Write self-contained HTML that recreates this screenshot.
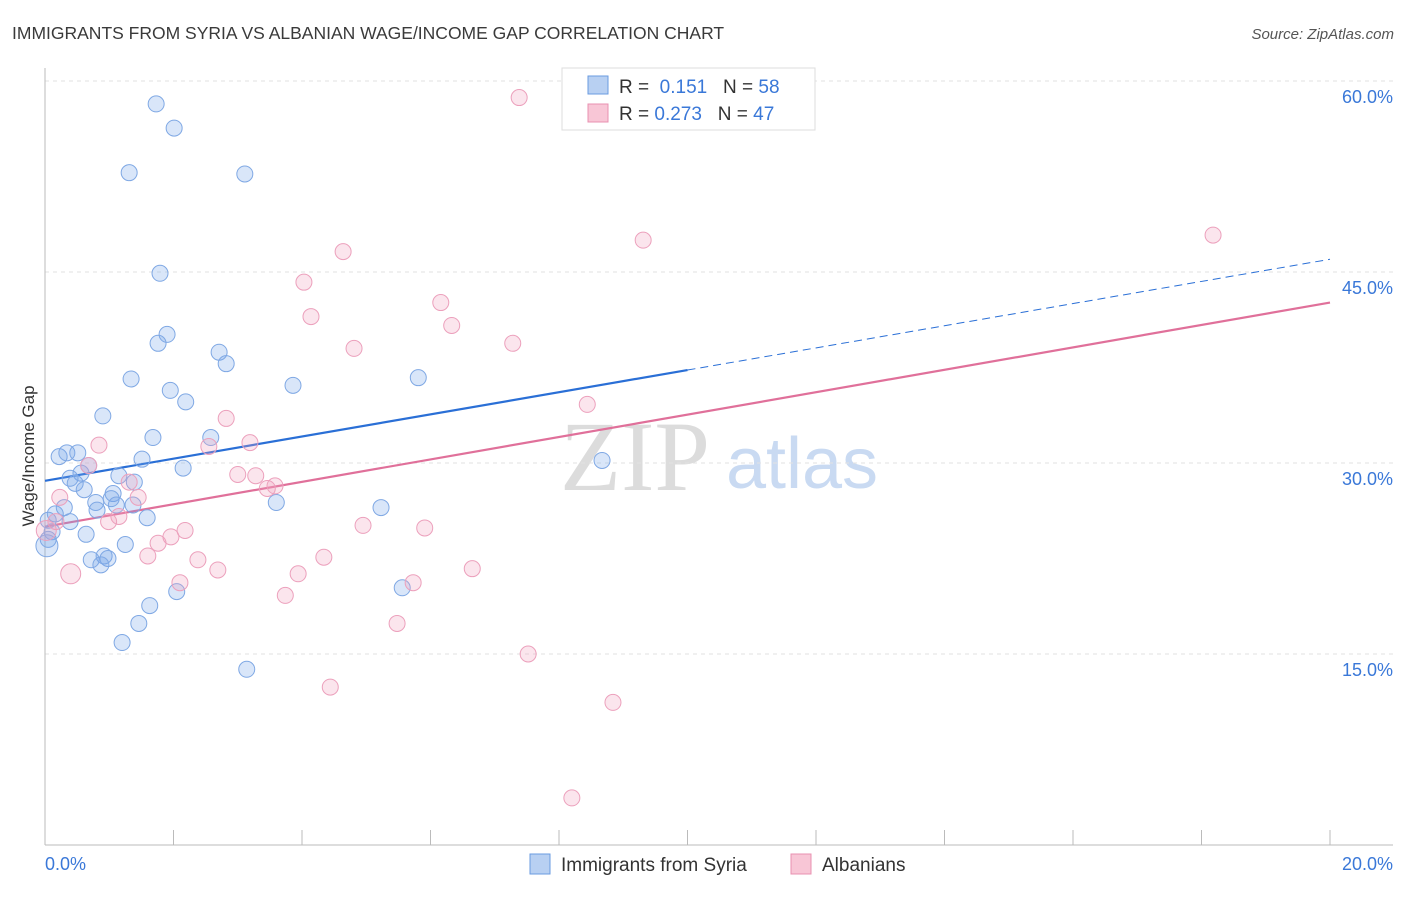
<!DOCTYPE html>
<html><head><meta charset="utf-8"><style>
body{margin:0;background:#fff;font-family:"Liberation Sans",sans-serif;}
svg text{font-family:"Liberation Sans",sans-serif;}
</style></head><body>
<svg id="chart" width="1406" height="892" viewBox="0 0 1406 892">
<text x="12" y="39" font-size="17.5" fill="#3a3a3a">IMMIGRANTS FROM SYRIA VS ALBANIAN WAGE/INCOME GAP CORRELATION CHART</text>
<text x="1394" y="39" font-size="15" fill="#555" text-anchor="end" font-style="italic">Source: ZipAtlas.com</text>
<g>
<text x="635" y="490" font-size="100" fill="#dcdcdc" style="font-family:'Liberation Serif',serif" text-anchor="middle">ZIP</text>
<text x="802" y="488" font-size="72" fill="#c9daf2" text-anchor="middle">atlas</text>
</g>
<g id="grid"></g>
<g id="axes"></g>
<g id="trends"></g>
<g id="points"></g>
<text transform="translate(34,456) rotate(-90)" font-size="17" fill="#333" text-anchor="middle">Wage/Income Gap</text>
<g>
<rect x="562" y="68" width="253" height="62" fill="#fff" stroke="#ddd"/>
<rect x="588" y="76" width="20" height="18" fill="#b8d0f2" stroke="#6a9be0"/>
<rect x="588" y="104" width="20" height="18" fill="#f8c6d6" stroke="#e890b0"/>
<text x="619" y="93" font-size="19" fill="#333">R = <tspan fill="#3a78d8">&#160;0.151</tspan>&#160;&#160;&#160;N = <tspan fill="#3a78d8">58</tspan></text>
<text x="619" y="120" font-size="19" fill="#333">R = <tspan fill="#3a78d8">0.273</tspan>&#160;&#160;&#160;N = <tspan fill="#3a78d8">47</tspan></text>
</g>
<g>
<rect x="530" y="854" width="20" height="20" fill="#b8d0f2" stroke="#6a9be0"/>
<text x="561" y="871" font-size="19" fill="#333">Immigrants from Syria</text>
<rect x="791" y="854" width="20" height="20" fill="#f8c6d6" stroke="#e890b0"/>
<text x="822" y="871" font-size="19" fill="#333">Albanians</text>
</g>
</svg>
<script>
const syriaX=[1.73,2.01,1.31,3.11,1.79,1.90,1.76,2.71,2.82,1.34,3.86,5.81,1.95,2.19,0.90,1.68,2.58,1.51,2.15,8.67,0.22,0.34,0.51,0.68,0.56,0.39,0.47,1.15,1.39,0.61,1.06,1.03,0.79,1.11,0.81,1.37,0.30,0.16,0.05,0.39,1.59,3.60,5.23,0.64,0.11,0.05,1.25,0.92,0.72,0.98,0.87,5.56,2.05,1.63,1.46,1.20,3.14,0.03];
const syriaY=[58.2,56.3,52.8,52.7,44.9,40.1,39.4,38.7,37.8,36.6,36.1,36.7,35.7,34.8,33.7,32.0,32.0,30.3,29.6,30.2,30.5,30.8,30.8,29.8,29.2,28.8,28.4,29.0,28.5,27.9,27.6,27.2,26.9,26.7,26.3,26.7,26.5,26.0,25.5,25.4,25.7,26.9,26.5,24.4,24.6,24.0,23.6,22.7,22.4,22.5,22.0,20.2,19.9,18.8,17.4,15.9,13.8,23.5];
const albX=[7.38,18.18,9.31,4.64,4.03,6.16,4.14,6.33,4.81,7.28,8.44,2.82,0.84,3.19,2.55,0.68,3.00,3.28,3.58,3.46,1.31,1.45,0.23,1.15,0.99,0.17,0.02,4.95,5.91,2.18,1.96,1.76,1.60,2.38,4.34,2.69,6.65,0.40,3.94,2.10,5.73,3.74,5.48,7.52,4.44,8.84,8.20];
const albY=[58.7,47.9,47.5,46.6,44.2,42.6,41.5,40.8,39.0,39.4,34.6,33.5,31.4,31.6,31.3,29.8,29.1,29.0,28.2,28.0,28.5,27.3,27.3,25.8,25.4,25.4,24.7,25.1,24.9,24.7,24.2,23.7,22.7,22.4,22.6,21.6,21.7,21.3,21.3,20.6,20.6,19.6,17.4,15.0,12.4,11.2,3.7];
const syriaTrend=[28.6,37.3,46.0]; // at x=0,10,20
const albTrend=[25.0,42.6]; // at x=0,20
const yTicks=[15,30,45,60];
const yTickLabels=["15.0%","30.0%","45.0%","60.0%"];
const xTicks=[0,2,4,6,8,10,12,14,16,18,20];
const NS="http://www.w3.org/2000/svg";
const X=v=>45+v*64.25;
const Y=v=>654-(v-15)*191/15;
function mk(tag,attrs,parent){const e=document.createElementNS(NS,tag);for(const k in attrs)e.setAttribute(k,attrs[k]);document.getElementById(parent).appendChild(e);return e;}
yTicks.forEach((t,i)=>{
 const l=mk('line',{x1:45,x2:1393,y1:Y(t),y2:Y(t),stroke:'#e2e2e2','stroke-dasharray':'4,4'},'grid');
 
 
 const tx=mk('text',{x:1393,y:Y(t)+22,'font-size':18,fill:'#3a78d8','text-anchor':'end'},'grid');
 tx.textContent=yTickLabels[i];
 
 
});
const ax=mk('line',{x1:45,x2:45,y1:68,y2:845,stroke:'#bbb'},'axes');


const bx=mk('line',{x1:45,x2:1393,y1:845,y2:845,stroke:'#bbb'},'axes');


xTicks.forEach(t=>{
 const l=mk('line',{x1:X(t),x2:X(t),y1:830,y2:845,stroke:'#bbb'},'axes');
 
 
});
const xl0=mk('text',{x:45,y:870,'font-size':18,fill:'#3a78d8'},'axes');xl0.textContent='0.0%';


const xl1=mk('text',{x:1393,y:870,'font-size':18,fill:'#3a78d8','text-anchor':'end'},'axes');xl1.textContent='20.0%';


function dot(x,y,fill,stroke,name,r){const c=mk('circle',{cx:X(x),cy:Y(y),r:r,fill:fill,stroke:stroke,'stroke-width':1},'points');
 
 }
syriaX.forEach((x,i)=>dot(x,syriaY[i],'rgba(120,165,235,0.28)','#7fa8e4','syria-point',i===syriaX.length-1?11:8));
albX.forEach((x,i)=>dot(x,albY[i],'rgba(242,160,190,0.28)','#eca0bc','albanian-point',(i===26||i===37)?10:8));
const t1=mk('line',{x1:X(0),y1:Y(syriaTrend[0]),x2:X(10),y2:Y(syriaTrend[1]),stroke:'#2a6fd6','stroke-width':2.2},'trends');


const t2=mk('line',{x1:X(10),y1:Y(syriaTrend[1]),x2:X(20),y2:Y(syriaTrend[2]),stroke:'#2a6fd6','stroke-width':1,'stroke-dasharray':'8,5'},'trends');


const t3=mk('line',{x1:X(0),y1:Y(albTrend[0]),x2:X(20),y2:Y(albTrend[1]),stroke:'#e0709a','stroke-width':2.2},'trends');


</script>
</body></html>
